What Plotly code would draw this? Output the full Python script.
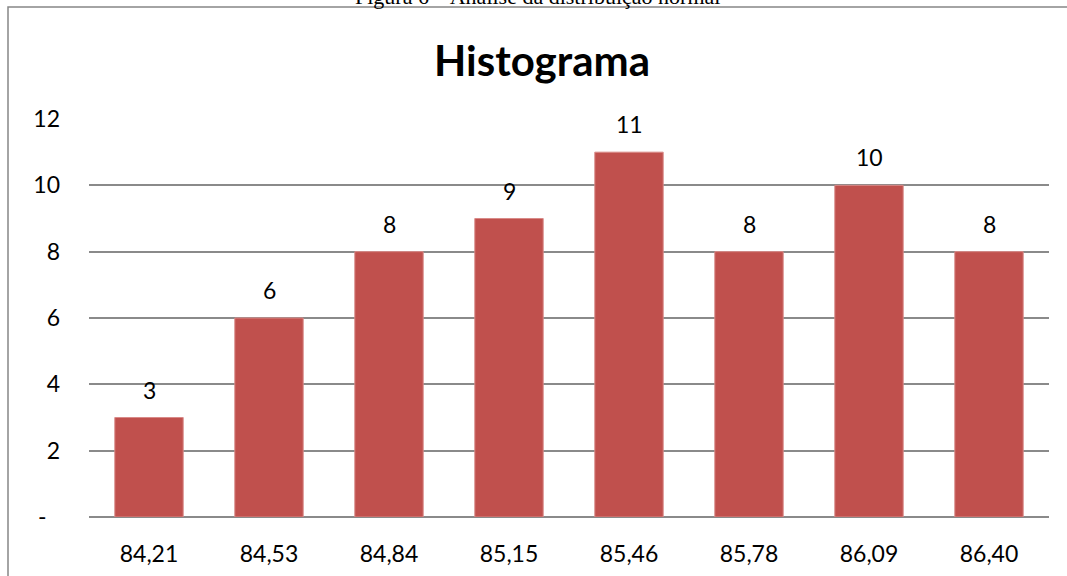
import plotly.graph_objects as go

categories = ["84,21", "84,53", "84,84", "85,15", "85,46", "85,78", "86,09", "86,40"]
counts = [3, 6, 8, 9, 11, 8, 10, 8]
y_tick_vals = [0, 2, 4, 6, 8, 10, 12]
y_tick_text = ["-\u2007", "2", "4", "6", "8", "10", "12"]
title_text = "Histograma"
caption_text = "Figura 6 – Análise da distribuição normal"

W, H = 1067, 576
ML, MR, MT, MB = 89, 18, 119, 59
PW, PH = W - ML - MR, H - MT - MB

FONT = "Lato, 'Open Sans', sans-serif"
GRID = "#8a8a8a"

fig = go.Figure()
fig.add_trace(go.Bar(
    x=categories, y=counts,
    marker=dict(color="#C0504D", line=dict(color="#D98A88", width=1)),
    hoverinfo="x+y",
))

annotations = []
for c, v in zip(categories, counts):
    annotations.append(dict(
        x=c, y=v, xref="x", yref="y", text=str(v), showarrow=False,
        yanchor="bottom", yshift=12, font=dict(family=FONT, size=23, color="#000000"),
    ))

def py(p):
    return (H - MB - p) / PH

def px(p):
    return (p - ML) / PW

annotations.append(dict(
    x=px(542), y=py(60), xref="paper", yref="paper", text="<b>" + title_text + "</b>",
    showarrow=False, xanchor="center", yanchor="middle",
    font=dict(family=FONT, size=42, color="#000000"),
))
annotations.append(dict(
    x=px(537), y=py(11), xref="paper", yref="paper", text=caption_text,
    showarrow=False, xanchor="center", yanchor="bottom",
    font=dict(family="'Liberation Serif', 'Times New Roman', serif", size=22, color="#000000"),
))

fig.update_layout(
    width=W, height=H,
    margin=dict(l=ML, r=MR, t=MT, b=MB, pad=0, autoexpand=False),
    paper_bgcolor="white", plot_bgcolor="white",
    bargap=0.43,
    showlegend=False,
    annotations=annotations,
    shapes=[dict(
        type="rect", xref="paper", yref="paper",
        x0=px(8), x1=px(W + 20), y0=py(H + 20), y1=py(7),
        line=dict(color="#878787", width=1.5), fillcolor="rgba(0,0,0,0)", layer="below",
    )],
    xaxis=dict(
        type="category", showgrid=False, showline=False, ticks="",
        tickfont=dict(family=FONT, size=23, color="#000000"),
        ticklabelstandoff=21, zeroline=False, automargin=False,
    ),
    yaxis=dict(
        range=[0, 12], tickmode="array", tickvals=y_tick_vals, ticktext=y_tick_text,
        showgrid=True, gridcolor=GRID, gridwidth=1.5,
        zeroline=True, zerolinecolor=GRID, zerolinewidth=1.5,
        showline=False, ticks="", automargin=False,
        tickfont=dict(family=FONT, size=23, color="#000000"),
        ticklabelstandoff=28,
    ),
)

fig.write_html("out.html")
